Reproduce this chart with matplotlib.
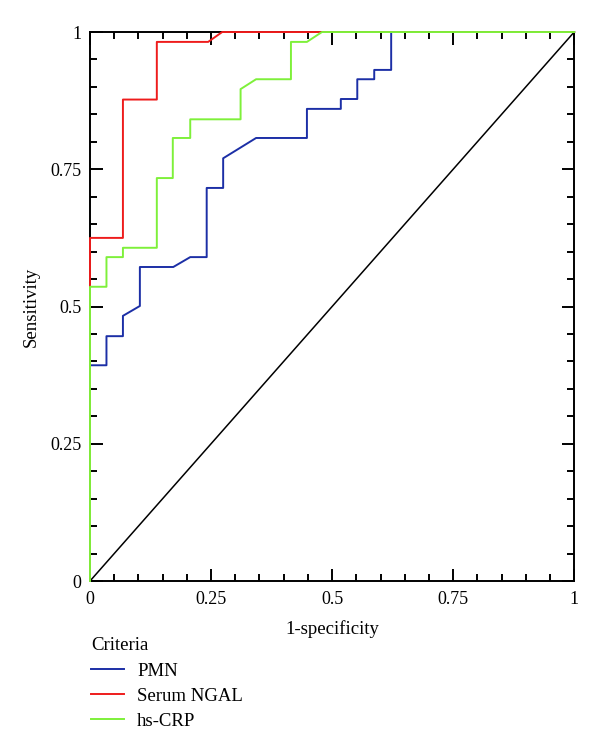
import matplotlib
matplotlib.use("Agg")
import matplotlib.pyplot as plt
from matplotlib.ticker import MultipleLocator

plt.rcParams["font.family"] = ["Liberation Serif", "DejaVu Serif"]

# ── ROC curve vertices (1-specificity, sensitivity) ──────────────────────────
pmn_x = [0, 0, 0.034, 0.034, 0.068, 0.068, 0.103, 0.103, 0.172, 0.207, 0.241,
         0.241, 0.275, 0.275, 0.343, 0.448, 0.448, 0.518, 0.518, 0.552, 0.552,
         0.587, 0.587, 0.622, 0.622, 1.0]
pmn_y = [0, 0.393, 0.393, 0.446, 0.446, 0.483, 0.501, 0.572, 0.572, 0.590, 0.590,
         0.716, 0.716, 0.770, 0.807, 0.807, 0.860, 0.860, 0.878, 0.878, 0.914,
         0.914, 0.931, 0.931, 1.0, 1.0]

ngal_x = [0, 0, 0.068, 0.068, 0.138, 0.138, 0.244, 0.273, 1.0]
ngal_y = [0, 0.625, 0.625, 0.877, 0.877, 0.982, 0.982, 1.0, 1.0]

crp_x = [0, 0, 0.034, 0.034, 0.068, 0.068, 0.138, 0.138, 0.171, 0.171, 0.207,
         0.207, 0.311, 0.311, 0.343, 0.415, 0.415, 0.448, 0.479, 1.0]
crp_y = [0, 0.536, 0.536, 0.590, 0.590, 0.607, 0.607, 0.734, 0.734, 0.807, 0.807,
         0.841, 0.841, 0.896, 0.914, 0.914, 0.982, 0.982, 1.0, 1.0]

labels = ["PMN", "Serum NGAL", "hs-CRP"]
colors = ["#1c2fa6", "#ee1c1c", "#7ef03a"]

fig = plt.figure(figsize=(6, 7.5), dpi=100)
ax = fig.add_axes([0.15, 0.2253, 0.807, 0.732])

ax.plot([0, 1], [0, 1], color="black", lw=1.1)
handles = []
for xs, ys, lab, c in zip([pmn_x, ngal_x, crp_x], [pmn_y, ngal_y, crp_y], labels, colors):
    h, = ax.plot(xs, ys, color=c, lw=1.4, label=lab, clip_on=False, zorder=5)
    handles.append(h)

ax.set_xlim(0, 1)
ax.set_ylim(0, 1)
ticks = [0, 0.25, 0.5, 0.75, 1]
tick_labels = ["0", "0.25", "0.5", "0.75", "1"]
ax.set_xticks(ticks)
ax.set_xticklabels(tick_labels)
ax.set_yticks(ticks)
ax.set_yticklabels(tick_labels)
ax.xaxis.set_minor_locator(MultipleLocator(0.05))
ax.yaxis.set_minor_locator(MultipleLocator(0.05))
ax.tick_params(which="both", direction="in", top=True, right=True, width=1.4,
               labelsize=13)
ax.tick_params(axis="x", pad=7)
ax.tick_params(axis="y", pad=6)
ax.tick_params(which="major", length=9)
ax.tick_params(which="minor", length=5)
for s in ax.spines.values():
    s.set_linewidth(1.4)
    s.set_zorder(4)

ax.set_xlabel("1-specificity", fontsize=13.5, labelpad=9)
ax.set_ylabel("Sensitivity", fontsize=13.5, labelpad=8)

leg = fig.legend(handles, labels, title="Criteria", loc="upper left",
                 bbox_to_anchor=(0.152, 0.15), frameon=False, alignment="left",
                 fontsize=13.5, title_fontsize=13.5, handlelength=1.75,
                 handletextpad=0.7, labelspacing=0.42, borderpad=0,
                 borderaxespad=0)
leg._legend_box.sep = 6

fig.savefig("out.png", dpi=100)
